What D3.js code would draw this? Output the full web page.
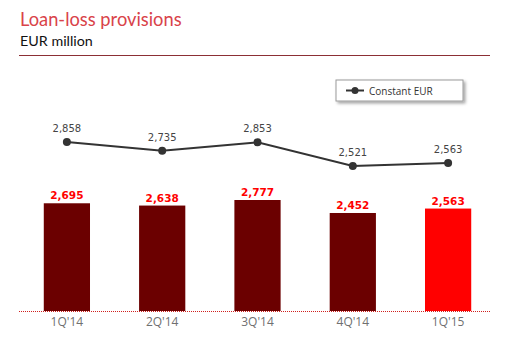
<!DOCTYPE html>
<html><head><meta charset="utf-8">
<script src="https://cdn.jsdelivr.net/npm/d3@7"></script>
<style>
html,body{margin:0;padding:0;background:#fff;}
svg{display:block;}
</style></head>
<body>
<svg id="chart" width="515" height="339"></svg>
<script>
// Quarterly loan-loss provisions, EUR million
const quarters = ["1Q'14", "2Q'14", "3Q'14", "4Q'14", "1Q'15"];
const provisions = [2695, 2638, 2777, 2452, 2563];
const constantEur = [2858, 2735, 2853, 2521, 2563];
const barColors = ["#6b0000", "#6b0000", "#6b0000", "#6b0000", "#ff0000"];

const svg = d3.select("#chart");

// header
svg.append("text").attr("x", 20).attr("y", 26)
  .attr("font-family", "Lato, 'Open Sans', sans-serif").attr("font-size", 18.3)
  .attr("fill", "#d9434a").text("Loan-loss provisions");
svg.append("text").attr("x", 20).attr("y", 46)
  .attr("font-family", "Lato, 'Open Sans', sans-serif").attr("font-size", 14.3)
  .attr("fill", "#111").text("EUR million");
svg.append("line").attr("x1", 19).attr("x2", 490).attr("y1", 55.5).attr("y2", 55.5)
  .attr("stroke", "#8c2f35").attr("stroke-width", 1);

// scales
const x = d3.scaleBand().domain(quarters).range([19, 496]).paddingInner(0.515).paddingOuter(0.26);
const baseY = 311;
const yBar = d3.scaleLinear().domain([0, 2777]).range([baseY, 200]);
const yLine = d3.scaleLinear().domain([2521, 2858]).range([166, 142]);

// bars
svg.selectAll("rect.bar").data(provisions).join("rect").attr("class", "bar")
  .attr("x", (d, i) => x(quarters[i]))
  .attr("width", x.bandwidth())
  .attr("y", d => yBar(d))
  .attr("height", d => baseY - yBar(d))
  .attr("fill", (d, i) => barColors[i]);

const fmt = d3.format(",");
svg.selectAll("text.barlab").data(provisions).join("text").attr("class", "barlab")
  .attr("x", (d, i) => x(quarters[i]) + x.bandwidth() / 2)
  .attr("y", d => yBar(d) - 4)
  .attr("text-anchor", "middle")
  .attr("font-family", "'DejaVu Sans', Verdana, sans-serif").attr("font-weight", "bold")
  .attr("font-size", 10.5).attr("fill", "#ff0000")
  .text(d => fmt(d));

// baseline
svg.append("line").attr("x1", 19).attr("x2", 490).attr("y1", baseY + 0.5).attr("y2", baseY + 0.5)
  .attr("stroke", "#d0201f").attr("stroke-width", 1).attr("stroke-dasharray", "1,1");

// category axis
const axis = d3.axisBottom(x).tickSize(0).tickPadding(5);
const ag = svg.append("g").attr("transform", `translate(0,${baseY + 1})`).call(axis);
ag.select(".domain").remove();
ag.selectAll("text").attr("font-family", "'Open Sans', sans-serif").attr("font-size", 12).attr("fill", "#707070");

// constant EUR line
const cx = i => x(quarters[i]) + x.bandwidth() / 2;
const line = d3.line().x((d, i) => cx(i)).y(d => yLine(d));
svg.append("path").datum(constantEur).attr("d", line)
  .attr("fill", "none").attr("stroke", "#333").attr("stroke-width", 2);
svg.selectAll("circle.pt").data(constantEur).join("circle").attr("class", "pt")
  .attr("cx", (d, i) => cx(i)).attr("cy", d => yLine(d)).attr("r", 4).attr("fill", "#333");
svg.selectAll("text.ptlab").data(constantEur).join("text").attr("class", "ptlab")
  .attr("x", (d, i) => cx(i)).attr("y", d => yLine(d) - 10)
  .attr("text-anchor", "middle")
  .attr("font-family", "'DejaVu Sans', Verdana, sans-serif")
  .attr("font-size", 10).attr("fill", "#444")
  .text(d => fmt(d));

// legend
const defs = svg.append("defs");
const f = defs.append("filter").attr("id", "sh").attr("x", "-10%").attr("y", "-20%").attr("width", "130%").attr("height", "160%");
f.append("feDropShadow").attr("dx", 2).attr("dy", 2).attr("stdDeviation", 1.5).attr("flood-color", "#000").attr("flood-opacity", 0.35);
const lg = svg.append("g").attr("transform", "translate(336,80)");
lg.append("rect").attr("width", 127).attr("height", 21).attr("fill", "#fff")
  .attr("stroke", "#9a9a9a").attr("stroke-width", 1).attr("filter", "url(#sh)");
lg.append("line").attr("x1", 10).attr("x2", 28).attr("y1", 10.5).attr("y2", 10.5).attr("stroke", "#333").attr("stroke-width", 2);
lg.append("circle").attr("cx", 19).attr("cy", 10.5).attr("r", 3.5).attr("fill", "#333");
lg.append("text").attr("x", 33).attr("y", 14.5)
  .attr("font-family", "'Open Sans', sans-serif").attr("font-size", 10).attr("fill", "#333")
  .text("Constant EUR");
</script>
</body></html>
